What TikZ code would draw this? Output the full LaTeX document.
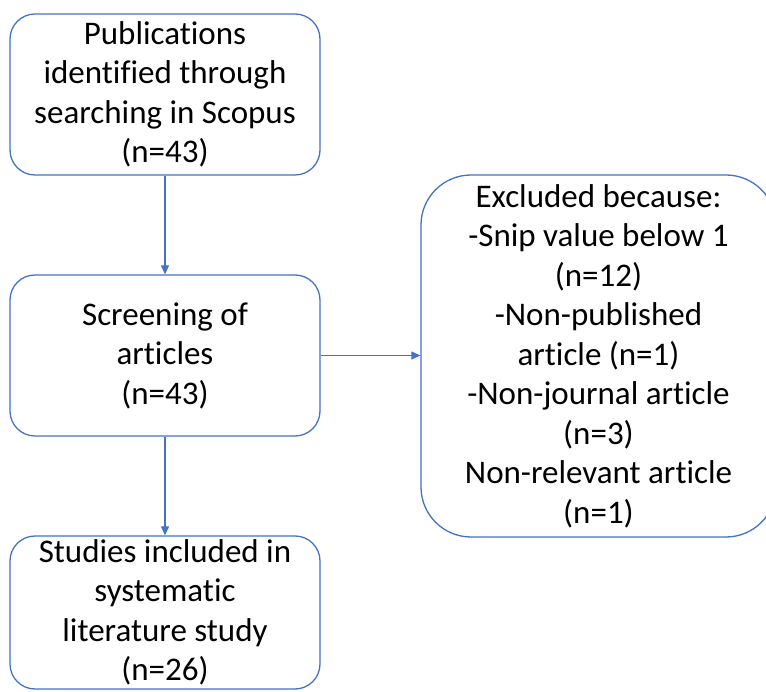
\documentclass[tikz,border=0pt]{standalone}
\usepackage{fontspec}
\setmainfont[Ligatures={NoCommon}]{Carlito}
\usetikzlibrary{arrows.meta}
\definecolor{officeblue}{HTML}{4472C4}
\begin{document}
\begin{tikzpicture}[x=1pt,y=-1pt,
  box/.style={draw=officeblue, line width=1.3pt, fill=white, rounded corners=25pt,
    align=center, inner sep=0pt, font=\fontsize{33}{39.5}\selectfont, text=black},
  conn/.style={draw=officeblue, line width=1.2pt, -{Triangle[length=9pt,width=8pt]}}]
\useasboundingbox (0,0) rectangle (766,692);
\clip (0,0) rectangle (766,692);
\node[box, minimum width=310pt, minimum height=161pt] (pub) at (165,94.5)
  {Publications\\identified through\\searching in Scopus\\(n=43)};
\node[box, minimum width=310pt, minimum height=161pt] (scr) at (165,355.5)
  {Screening of\\articles\\(n=43)};
\node[box, minimum width=310pt, minimum height=153pt] (inc) at (165,612.5)
  {Studies included in\\systematic\\literature study\\(n=26)};
\node[box, rounded corners=50pt, minimum width=355pt, minimum height=362pt] (exc) at (598.5,356)
  {Excluded because:\\-Snip value below 1\\(n=12)\\-Non-published\\article (n=1)\\-Non-journal article\\(n=3)\\Non-relevant article\\(n=1)};
\draw[conn] (pub) -- (scr);
\draw[conn] (scr) -- (inc);
\draw[conn] (scr.east) -- (scr.east -| exc.west);
\end{tikzpicture}
\end{document}
